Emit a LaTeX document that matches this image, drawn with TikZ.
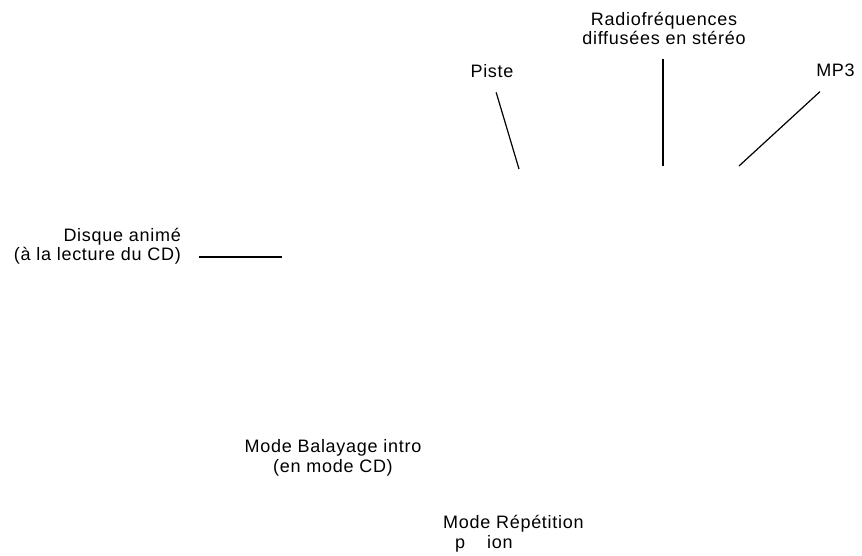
\documentclass[tikz,border=0pt]{standalone}
\usepackage{fontspec}
\setmainfont[LetterSpace=4]{Liberation Sans}
\usetikzlibrary{positioning}

\begin{document}
\begin{tikzpicture}[x=1pt, y=-1pt,
    every node/.style={font=\fontsize{18}{19.5}\selectfont, inner sep=0pt},
    callout/.style={align=center, anchor=base},
    calloutr/.style={align=right, anchor=base east},
    calloutl/.style={align=left, anchor=base west},
    lead/.style={line width=1.2pt},
]
\useasboundingbox (0,0) rectangle (862,556);

% Labels at the top
\node[callout] (piste) at (492,78) {Piste};
\node[callout] (radio) at (664,45) {Radiofréquences\\diffusées en stéréo};
\node[callout] (mp3) at (835.5,77) {MP3};

% Labels on the left and below
\node[calloutr] (disque) at (181,261) {Disque animé\\(à la lecture du CD)};
\node[callout] (balayage) at (333,472) {Mode Balayage intro\\(en mode CD)};
\node[calloutl] (repet) at (443,548) {Mode Répétition\\\hspace*{12pt}p\hspace{22pt}ion};

% Leader ends
\coordinate (pisteEnd) at (519,169);
\coordinate (radioEnd) at (663,166);
\coordinate (mp3End) at (739,166);
\coordinate (disqueEnd) at (282,257);

% Leaders
\draw[lead, shorten <=14.6pt] (piste.south) -- (pisteEnd);
\draw[lead] (radioEnd |- 0,59) -- (radioEnd);
\draw[lead, shorten <=21pt] (mp3.south) -- (mp3End);
\draw[lead, shorten <=18pt] (disque.east |- disqueEnd) -- (disqueEnd);

\end{tikzpicture}
\end{document}
